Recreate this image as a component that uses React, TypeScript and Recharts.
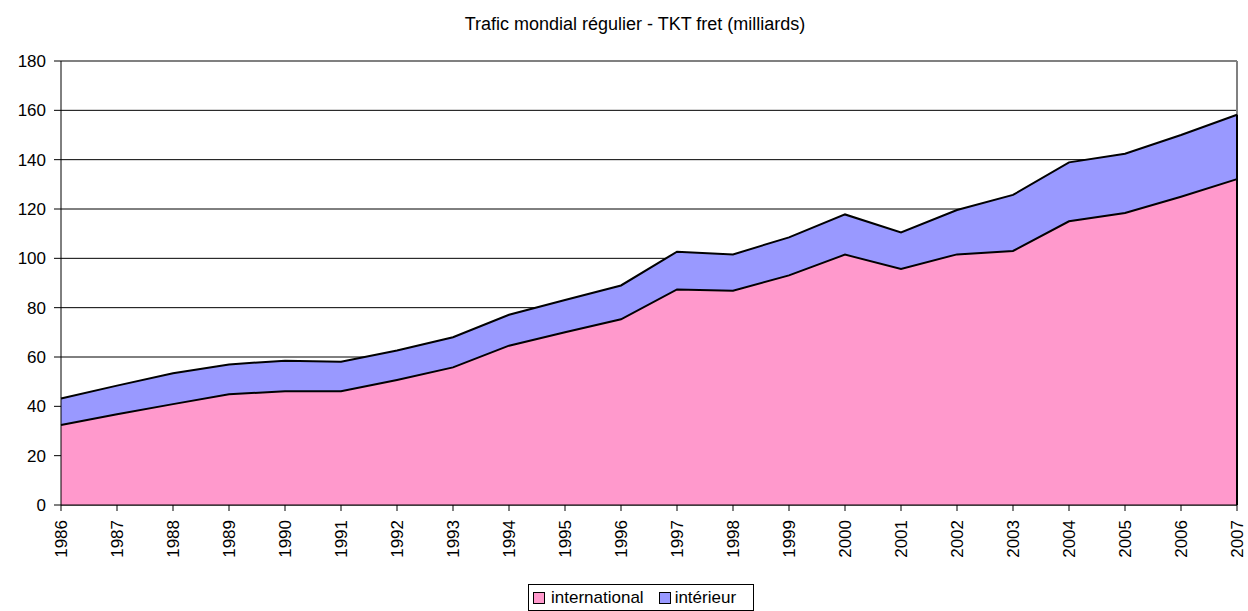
import React from 'react';
import {
  ComposedChart,
  Area,
  Line,
  XAxis,
  YAxis,
  CartesianGrid,
  ReferenceLine,
  Legend,
} from 'recharts';

const years = [
  '1986', '1987', '1988', '1989', '1990', '1991', '1992', '1993', '1994', '1995', '1996',
  '1997', '1998', '1999', '2000', '2001', '2002', '2003', '2004', '2005', '2006', '2007',
];
const international = [
  32.4, 36.8, 40.9, 44.9, 46.1, 46.1, 50.7, 55.8, 64.6, 70.0, 75.3,
  87.4, 86.9, 93.1, 101.5, 95.7, 101.6, 103.0, 115.0, 118.4, 125.0, 132.1,
];
const interieur = [
  10.8, 11.6, 12.5, 12.1, 12.4, 12.0, 11.9, 12.2, 12.5, 13.1, 13.7,
  15.3, 14.7, 15.4, 16.3, 14.8, 18.0, 22.7, 23.9, 24.0, 25.0, 26.1,
];
const yTicks = [0, 20, 40, 60, 80, 100, 120, 140, 160, 180];
const seriesNames = ['international', 'intérieur'];
const title = 'Trafic mondial régulier - TKT fret (milliards)';

const data = years.map((y, i) => ({
  year: y,
  international: international[i],
  interieur: interieur[i],
  total: international[i] + interieur[i],
}));

const lastYear = years[years.length - 1];
const lastTotal = international[international.length - 1] + interieur[interieur.length - 1];

const FONT = '"Liberation Sans", Arial, sans-serif';
const PINK = '#FF99CC';
const BLUE = '#9999FF';

const XTick = (props: any) => {
  const { x, y, payload } = props;
  return (
    <g transform={`translate(${x},${y + 7}) rotate(-90)`}>
      <text
        x={0}
        y={0}
        textAnchor="end"
        dominantBaseline="central"
        fill="#000"
        fontSize={17}
        fontFamily={FONT}
      >
        {payload.value}
      </text>
    </g>
  );
};

const Swatch = ({ color }: { color: string }) => (
  <span
    style={{
      display: 'inline-block',
      width: 10,
      height: 10,
      background: color,
      border: '1.5px solid #000',
    }}
  />
);

const LegendBox = () => (
  <div
    style={{
      boxSizing: 'border-box',
      width: 226,
      height: 27,
      border: '1px solid #000',
      background: '#fff',
      display: 'flex',
      alignItems: 'center',
      paddingLeft: 4,
      fontFamily: FONT,
      fontSize: 17,
      color: '#000',
      whiteSpace: 'nowrap',
    }}
  >
    <Swatch color={PINK} />
    <span style={{ marginLeft: 6 }}>{seriesNames[0]}</span>
    <span style={{ marginLeft: 15, display: 'flex', alignItems: 'center' }}>
      <Swatch color={BLUE} />
    </span>
    <span style={{ marginLeft: 4 }}>{seriesNames[1]}</span>
  </div>
);

export default function App() {
  return (
    <div style={{ position: 'absolute', left: 0, top: 0, width: 1248, height: 611, background: '#fff' }}>
      <div
        style={{
          position: 'absolute',
          left: 0,
          top: 14,
          width: 1270,
          textAlign: 'center',
          fontFamily: FONT,
          fontSize: 18,
          lineHeight: '20px',
          color: '#000',
        }}
      >
        {title}
      </div>
      <ComposedChart
        width={1248}
        height={611}
        data={data}
        margin={{ top: 61, right: 11, bottom: 0, left: 0 }}
      >
        <CartesianGrid horizontal vertical={false} stroke="#000" strokeWidth={1} />
        <ReferenceLine y={180} stroke="#808080" strokeWidth={2} />
        <ReferenceLine x={lastYear} stroke="#808080" strokeWidth={2} />
        <Area
          type="linear"
          dataKey="international"
          stackId="a"
          stroke="none"
          fill={PINK}
          fillOpacity={1}
          isAnimationActive={false}
          dot={false}
          activeDot={false}
        />
        <Area
          type="linear"
          dataKey="interieur"
          stackId="a"
          stroke="none"
          fill={BLUE}
          fillOpacity={1}
          isAnimationActive={false}
          dot={false}
          activeDot={false}
        />
        <Line
          type="linear"
          dataKey="international"
          stroke="#000"
          strokeWidth={2}
          dot={false}
          activeDot={false}
          isAnimationActive={false}
          legendType="none"
        />
        <Line
          type="linear"
          dataKey="total"
          stroke="#000"
          strokeWidth={2}
          dot={false}
          activeDot={false}
          isAnimationActive={false}
          legendType="none"
        />
        <ReferenceLine
          segment={[
            { x: lastYear, y: 0 },
            { x: lastYear, y: lastTotal },
          ]}
          stroke="#000"
          strokeWidth={2}
        />
        <XAxis
          dataKey="year"
          interval={0}
          height={106}
          stroke="#000"
          tickSize={6}
          tickMargin={2}
          tick={<XTick />}
        />
        <YAxis
          domain={[0, 180]}
          ticks={yTicks}
          width={61}
          stroke="#000"
          tickSize={7}
          tickMargin={8}
          interval={0}
          tick={{ fill: '#000', fontSize: 17, fontFamily: FONT }}
        />
        <Legend
          layout="vertical"
          align="center"
          verticalAlign="middle"
          content={() => <LegendBox />}
          wrapperStyle={{ position: 'absolute', left: 528, top: 584, width: 226, height: 27 }}
        />
      </ComposedChart>
    </div>
  );
}
